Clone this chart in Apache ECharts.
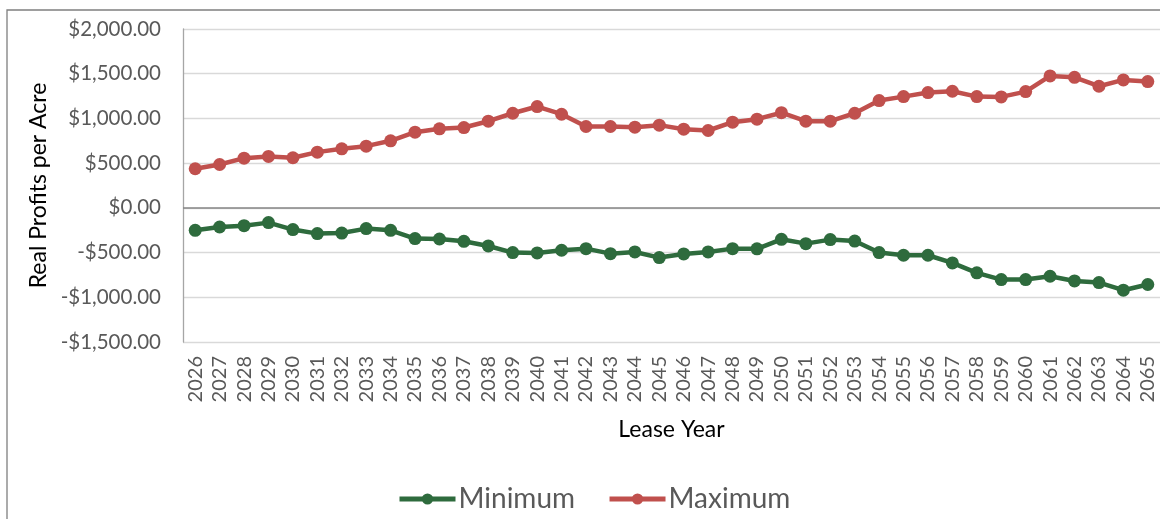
<!DOCTYPE html>
<html>
<head>
<meta charset="utf-8">
<script src="https://cdn.jsdelivr.net/npm/echarts@6/dist/echarts.min.js"></script>
<style>html,body{margin:0;padding:0;background:#fff;}#c{width:1160px;height:519px;}</style>
</head>
<body>
<div id="c"></div>
<script>
const years = ['2026','2027','2028','2029','2030','2031','2032','2033','2034','2035','2036','2037','2038','2039','2040','2041','2042','2043','2044','2045','2046','2047','2048','2049','2050','2051','2052','2053','2054','2055','2056','2057','2058','2059','2060','2061','2062','2063','2064','2065'];
const minimum = [-251,-214,-199,-165,-243,-288,-282,-232,-251,-344,-348,-374,-426,-500,-504,-474,-456,-512,-493,-556,-515,-493,-456,-458,-352,-400,-355,-371,-500,-530,-530,-616,-727,-802,-802,-765,-817,-835,-921,-857];
const maximum = [437,485,556,575,560,623,660,690,750,846,884,898,969,1058,1133,1047,910,910,902,925,880,865,958,992,1064,969,969,1058,1200,1244,1289,1304,1244,1241,1300,1475,1460,1360,1431,1412];
const yTicks = {min:-1500, max:2000, interval:500};

const chart = echarts.init(document.getElementById('c'));
const fam = 'Lato';
function fmt(v){
  const neg = v < 0;
  const s = Math.abs(v).toLocaleString('en-US',{minimumFractionDigits:2,maximumFractionDigits:2});
  return (neg ? '-$' : '$') + s;
}
chart.setOption({
  backgroundColor:'#fff',
  animation:false,
  graphic:[{type:'rect',shape:{x:7,y:10,width:1300,height:700},style:{fill:'none',stroke:'#7f7f7f',lineWidth:1.3},silent:true,z:-1}],
  grid:{left:183,top:29,right:0,bottom:177,containLabel:false},
  legend:{
    data:['Minimum','Maximum'],
    left:392, top:480,
    itemWidth:56, itemHeight:14, itemGap:32,
    lineStyle:{width:5},
    textStyle:{fontFamily:fam,fontSize:28,color:'#595959',padding:[0,0,0,-2]}
  },
  xAxis:{
    type:'category', data:years, boundaryGap:true,
    name:'Lease Year', nameLocation:'middle', nameGap:76,
    nameTextStyle:{fontFamily:fam,fontSize:23,color:'#000'},
    axisLine:{show:false,onZero:false},
    axisTick:{show:false},
    axisLabel:{interval:0,rotate:90,margin:14,fontFamily:fam,fontSize:20,color:'#595959'}
  },
  yAxis:{
    type:'value', min:yTicks.min, max:yTicks.max, interval:yTicks.interval,
    name:'Real Profits per Acre', nameLocation:'middle', nameGap:124, nameRotate:90,
    nameTextStyle:{fontFamily:fam,fontSize:23,color:'#000'},
    axisLine:{show:true,lineStyle:{color:'#a6a6a6',width:1.3}},
    axisTick:{show:false},
    splitLine:{lineStyle:{color:'#d9d9d9',width:1.3}},
    axisLabel:{margin:22,fontFamily:fam,fontSize:20.5,color:'#595959',formatter:fmt}
  },
  series:[
    {name:'Minimum',type:'line',data:minimum,color:'#2e6b3d',symbol:'circle',symbolSize:13,
     lineStyle:{width:4.5,color:'#2e6b3d'},itemStyle:{color:'#2e6b3d'},z:3,
     markLine:{silent:true,symbol:'none',label:{show:false},lineStyle:{color:'#868686',width:1.5,type:'solid'},data:[{yAxis:0}],z:1}},
    {name:'Maximum',type:'line',data:maximum,color:'#c0504d',symbol:'circle',symbolSize:13,
     lineStyle:{width:4.5,color:'#c0504d'},itemStyle:{color:'#c0504d'},z:3}
  ]
});
</script>
</body>
</html>
